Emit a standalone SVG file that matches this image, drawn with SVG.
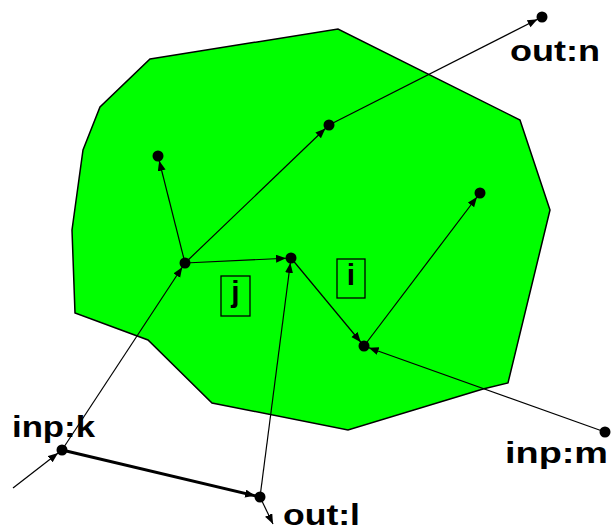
<svg xmlns="http://www.w3.org/2000/svg" width="611" height="531" viewBox="0 0 611 531">
<defs>
<style>
.edge{stroke:#000;stroke-width:1.2;fill:none;marker-end:url(#arr)}
.thick{stroke-width:3}
.free{marker-end:url(#arrTip)}
.node circle{fill:#000}
.lbl{font-family:"Liberation Sans",Arial,sans-serif;font-weight:bold;font-size:30px;fill:#000}
.box rect{fill:none;stroke:#000;stroke-width:1.3}
</style>
<marker id="arr" markerUnits="userSpaceOnUse" markerWidth="20" markerHeight="10" refX="15" refY="4" orient="auto"><path d="M0,0 L10,4 L0,8 z" fill="#000"/></marker>
<marker id="arrTip" markerUnits="userSpaceOnUse" markerWidth="12" markerHeight="10" refX="10" refY="4" orient="auto"><path d="M0,0 L10,4 L0,8 z" fill="#000"/></marker>
</defs>
<rect width="611" height="531" fill="#fff"/>
<polygon id="region" points="150,59 338,29 520,120 550,210 508,383 483,389 348,430 212,403 148,340 75,313 72,230 83,150 100,107" fill="#00ff00" stroke="#000" stroke-width="1.5"/>
<g id="connectors">
<line class="edge" x1="62" y1="450" x2="185" y2="263"/>
<line class="edge" x1="185" y1="263" x2="329" y2="125"/>
<line class="edge" x1="329" y1="125" x2="542" y2="17"/>
<line class="edge" x1="185" y1="263" x2="158" y2="156"/>
<line class="edge" x1="185" y1="263" x2="291" y2="258"/>
<line class="edge" x1="260" y1="497" x2="291" y2="258"/>
<line class="edge" x1="291" y1="258" x2="364" y2="346"/>
<line class="edge" x1="364" y1="346" x2="480" y2="193"/>
<line class="edge" x1="605" y1="432" x2="364" y2="346"/>
<line class="edge thick" x1="62" y1="450" x2="260" y2="497"/>
<line class="edge free" x1="260" y1="497" x2="273" y2="524"/>
<line class="edge" x1="13" y1="488" x2="62" y2="450"/>
</g>
<g id="n1" class="node"><circle cx="542" cy="17" r="5.5"/></g>
<g id="n2" class="node"><circle cx="329" cy="125" r="5.5"/></g>
<g id="n3" class="node"><circle cx="158" cy="156" r="5.5"/></g>
<g id="n4" class="node"><circle cx="185" cy="263" r="5.5"/></g>
<g id="n5" class="node"><circle cx="291" cy="258" r="5.5"/></g>
<g id="n6" class="node"><circle cx="480" cy="193" r="5.5"/></g>
<g id="n7" class="node"><circle cx="364" cy="346" r="5.5"/></g>
<g id="inp-m" class="node"><circle cx="605" cy="432" r="5.5"/><text class="lbl" x="505" y="463" textLength="103" lengthAdjust="spacingAndGlyphs">inp:m</text></g>
<g id="inp-k" class="node"><circle cx="62" cy="450" r="5.5"/><text class="lbl" x="12" y="437" textLength="83" lengthAdjust="spacingAndGlyphs">inp:k</text></g>
<g id="out-l" class="node"><circle cx="260" cy="497" r="5.5"/><text class="lbl" x="283" y="525" textLength="77" lengthAdjust="spacingAndGlyphs">out:l</text></g>
<g id="out-n" class="node"><text class="lbl" x="510" y="61" textLength="90" lengthAdjust="spacingAndGlyphs">out:n</text></g>
<g id="box-j" class="box"><rect x="221" y="276" width="29" height="40"/><text class="lbl" x="235.5" y="302" text-anchor="middle">j</text></g>
<g id="box-i" class="box"><rect x="337" y="259" width="28" height="39"/><text class="lbl" x="351" y="285" text-anchor="middle">i</text></g>
</svg>
